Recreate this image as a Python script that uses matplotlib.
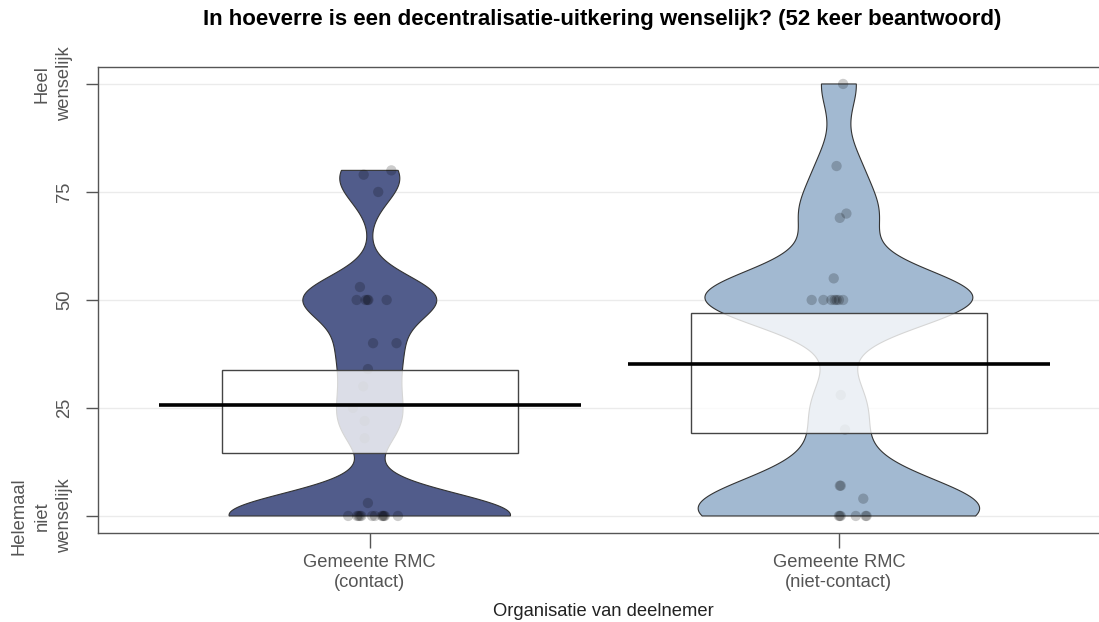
import numpy as np
import matplotlib
matplotlib.use("Agg")
import matplotlib.pyplot as plt

# ---------------- data ----------------
categories = ["Gemeente RMC\n(contact)", "Gemeente RMC\n(niet-contact)"]

contact_values = [79, 80, 75, 53, 50, 50, 50, 50, 50, 40, 40, 34, 30, 25, 22, 18, 3,
                  0, 0, 0, 0, 0, 0, 0, 0, 0, 0, 0, 0]
contact_jitter = [-0.013, 0.046, 0.018, -0.021, -0.028, -0.009, -0.005, -0.003, 0.036, 0.007, 0.057,
                  -0.004, -0.014, -0.036, -0.011, -0.011, -0.004,
                  -0.046, -0.027, -0.024, -0.021, 0.005, 0.011, 0.026, 0.028, 0.030, 0.032, 0.060, -0.018]

niet_contact_values = [100, 81, 70, 69, 55, 50, 50, 50, 50, 50, 50, 50, 28, 20, 7, 7, 4,
                       0, 0, 0, 0, 0, 0]
niet_contact_jitter = [0.009, -0.005, 0.016, 0.002, -0.011, -0.058, -0.033, -0.016, -0.009,
                       -0.005, 0.000, 0.009, 0.004, 0.013, 0.004, 0.002, 0.052,
                       0.002, 0.000, 0.036, 0.057, 0.059, 0.004]

means = [25.7, 35.2]
inf_lower = [14.5, 19.2]
inf_upper = [33.8, 47.0]

bean_colors = ["#515c8b", "#a2b9d1"]
bandwidths = [5.0, 6.5]

yticks = [0, 25, 50, 75, 100]
ytick_labels = ["Helemaal\nniet\nwenselijk", "25", "50", "75", "Heel\nwenselijk"]

title = "In hoeverre is een decentralisatie-uitkering wenselijk? (52 keer beantwoord)"
xlabel = "Organisatie van deelnemer"

# ---------------- plot ----------------
plt.rcParams['font.family'] = ['Liberation Sans', 'DejaVu Sans']

fig = plt.figure(figsize=(10.99, 6.22), dpi=100)
ax = fig.add_axes([0.0889, 0.1436, 0.922, 0.7492])

groups = [(contact_values, contact_jitter), (niet_contact_values, niet_contact_jitter)]
positions = [1, 2]
bean_half = 0.30
box_half = 0.315
line_half = 0.45

for (vals, jit), pos, col, bw, m, lo, hi in zip(groups, positions, bean_colors, bandwidths,
                                                 means, inf_lower, inf_upper):
    v = np.asarray(vals, dtype=float)
    grid = np.linspace(v.min(), v.max(), 400)
    dens = np.exp(-0.5 * ((grid[:, None] - v[None, :]) / bw) ** 2).sum(axis=1)
    w = dens / dens.max() * bean_half
    xs = np.concatenate([pos - w, (pos + w)[::-1]])
    ys = np.concatenate([grid, grid[::-1]])
    ax.fill(xs, ys, facecolor=col, edgecolor="#333333", linewidth=0.8, zorder=1)
    ax.scatter(pos + np.asarray(jit), v, s=55, color="black", alpha=0.2,
               edgecolors="none", zorder=2)
    ax.add_patch(plt.Rectangle((pos - box_half, lo), 2 * box_half, hi - lo,
                               facecolor="white", alpha=0.8, edgecolor="none", zorder=3))
    ax.add_patch(plt.Rectangle((pos - box_half, lo), 2 * box_half, hi - lo,
                               facecolor="none", edgecolor="#444444", linewidth=1.0, zorder=3.5))
    ax.plot([pos - line_half, pos + line_half], [m, m], color="black", linewidth=2.6,
            zorder=4, solid_capstyle="butt")

for yv in yticks:
    ax.axhline(yv, color="#ebebeb", linewidth=1.0, zorder=0)

ax.set_xlim(0.42, 2.58)
ax.set_ylim(-3.87, 104.0)

ax.set_yticks(yticks)
ax.set_yticklabels(ytick_labels, rotation=90, va="center", ha="right",
                   multialignment="center", fontsize=13.2, color="#555555", linespacing=1.45)
ax.tick_params(axis="y", length=9, width=1, color="#555555", pad=8.5)
ax.set_xticks(positions)
ax.set_xticklabels(categories, fontsize=13.2, color="#555555", linespacing=1.3)
ax.tick_params(axis="x", length=11, width=1, color="#555555", pad=4)

for s in ax.spines.values():
    s.set_color("#555555")
    s.set_linewidth(1.0)

fig.text(0.549, (622 - 612) / 622, xlabel, ha="center", va="center", fontsize=13.2,
         color="#222222")
fig.text(0.548, 0.968, title, ha="center", va="center", fontsize=16,
         fontweight="bold", color="black")

fig.savefig("out.png", dpi=100)
